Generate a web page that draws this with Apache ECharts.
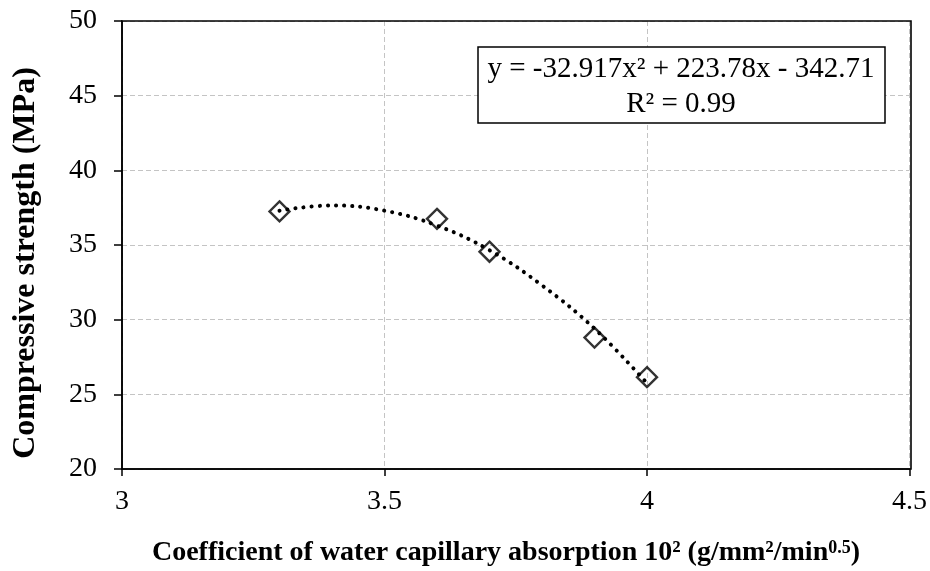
<!DOCTYPE html>
<html>
<head>
<meta charset="utf-8">
<title>Compressive strength vs capillary absorption</title>
<script src="https://cdn.jsdelivr.net/npm/echarts@6/dist/echarts.min.js"></script>
<style>
  html, body { margin: 0; padding: 0; background: #fff; }
  #chart { width: 930px; height: 571px; }
</style>
</head>
<body>
<div id="chart"></div>
<script>
// measured points
var absorption = [3.3, 3.6, 3.7, 3.9, 4.0];
var strength = [37.25, 36.75, 34.55, 28.8, 26.15];

// polynomial trendline
var trendX = [3.3, 3.4, 3.5, 3.6, 3.7, 3.8, 3.9, 4.0];
var trendY = [37.3, 37.65, 37.3, 36.3, 34.65, 32.3, 29.4, 25.75];

var xTicks = { min: 3, max: 4.5, step: 0.5 };
var yTicks = { min: 20, max: 50, step: 5 };

var font = 'Liberation Serif';
var plot = { left: 122, top: 21, width: 789, height: 448 };

var chart = echarts.init(document.getElementById('chart'));

chart.setOption({
  animation: false,
  backgroundColor: '#fff',
  grid: {
    left: plot.left, top: plot.top, width: plot.width, height: plot.height
  },
  xAxis: {
    type: 'value',
    min: xTicks.min, max: xTicks.max, interval: xTicks.step,
    axisLine: { lineStyle: { color: '#000', width: 1.5 } },
    axisTick: { show: true, length: 7, lineStyle: { color: '#000', width: 1.5 } },
    axisLabel: { color: '#000', fontFamily: font, fontSize: 28, margin: 19 },
    splitLine: { lineStyle: { color: '#c4c4c4', type: [5, 3], width: 1 } }
  },
  yAxis: {
    type: 'value',
    min: yTicks.min, max: yTicks.max, interval: yTicks.step,
    axisLine: { lineStyle: { color: '#000', width: 1.5 } },
    axisTick: { show: true, length: 8, lineStyle: { color: '#000', width: 1.5 } },
    axisLabel: { color: '#000', fontFamily: font, fontSize: 28, margin: 25 },
    splitLine: { lineStyle: { color: '#c4c4c4', type: [5, 3], width: 1 } }
  },
  series: [
    {
      name: 'trend',
      type: 'line',
      data: trendX.map(function (x, i) { return [x, trendY[i]]; }),
      smooth: 0.4,
      showSymbol: false,
      z: 2,
      lineStyle: { color: '#000', width: 4, type: [0.1, 8], cap: 'round' }
    },
    {
      name: 'data',
      type: 'scatter',
      data: absorption.map(function (x, i) { return [x, strength[i]]; }),
      symbol: 'diamond',
      symbolSize: 20,
      z: 3,
      itemStyle: { color: 'rgba(0,0,0,0)', borderColor: '#000', borderWidth: 2.4 }
    }
  ],
  graphic: [
    {
      // plot frame
      type: 'rect',
      shape: { x: plot.left, y: plot.top, width: plot.width, height: plot.height },
      style: { fill: null, stroke: '#000', lineWidth: 1.6 },
      z: 9
    },
    {
      type: 'rect',
      shape: { x: 478, y: 47, width: 407, height: 76 },
      style: { fill: '#fff', stroke: '#000', lineWidth: 1.5 },
      z: 10
    },
    {
      type: 'text',
      x: 681, y: 69,
      z: 11,
      style: {
        text: 'y = -32.917x² + 223.78x - 342.71',
        fontFamily: font, fontSize: 29, fill: '#000',
        align: 'center', verticalAlign: 'middle'
      }
    },
    {
      type: 'text',
      x: 681, y: 104,
      z: 11,
      style: {
        text: 'R² = 0.99',
        fontFamily: font, fontSize: 29, fill: '#000',
        align: 'center', verticalAlign: 'middle'
      }
    },
    {
      type: 'text',
      x: 506, y: 553,
      z: 11,
      style: {
        text: 'Coefficient of water capillary absorption 10² (g/mm²/min{sup|0.5})',
        fontFamily: font, fontSize: 28, fontWeight: 'bold', fill: '#000',
        align: 'center', verticalAlign: 'middle',
        rich: {
          sup: { fontFamily: font, fontSize: 18, fontWeight: 'bold', fill: '#000', verticalAlign: 'top', padding: [0, 0, 10, 0] }
        }
      }
    },
    {
      type: 'text',
      x: 26, y: 263,
      rotation: Math.PI / 2,
      z: 11,
      style: {
        text: 'Compressive strength (MPa)',
        fontFamily: font, fontSize: 32, fontWeight: 'bold', fill: '#000',
        align: 'center', verticalAlign: 'middle'
      }
    }
  ]
});
</script>
</body>
</html>
